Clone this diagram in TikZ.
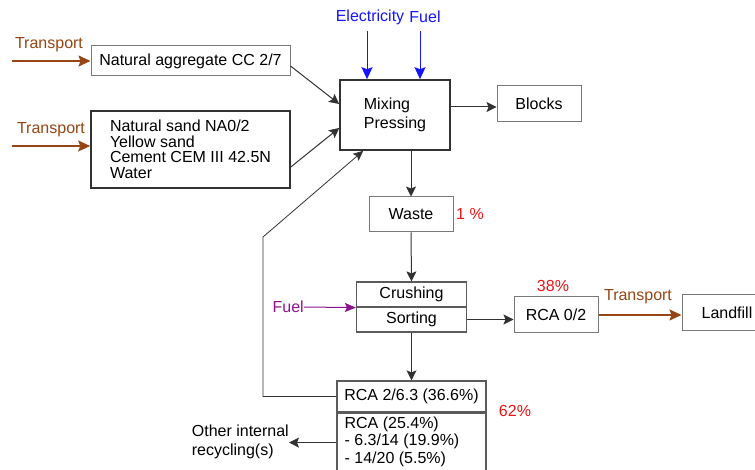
\documentclass[tikz,border=0pt]{standalone}
\usepackage{fontspec}
\setmainfont{Liberation Sans}
\usetikzlibrary{arrows.meta,calc}
\definecolor{brn}{RGB}{150,70,20}
\definecolor{blu}{RGB}{20,20,255}
\definecolor{prp}{RGB}{140,20,140}
\definecolor{rd}{RGB}{240,20,20}
\definecolor{dk}{RGB}{50,50,50}
\definecolor{gr}{RGB}{120,120,120}
\tikzset{
  lightbox/.style={draw=gr, line width=1pt, inner sep=0pt, fill=white},
  darkbox/.style={draw=dk, line width=1.6pt, inner sep=0pt, fill=white},
  flow/.style={draw=dk, line width=1pt, -{Stealth[length=10pt,width=10pt,inset=2pt]}},
  thinflow/.style={draw=dk, line width=0.8pt, -{Stealth[length=10pt,width=9pt,inset=2pt]}},
  trans/.style={draw=brn, line width=1.4pt, -{Stealth[length=12pt,width=11pt,inset=2pt]}},
  energy/.style={draw=blu, line width=1pt, -{Stealth[length=12pt,width=11pt,inset=2pt]}},
  fuelarr/.style={draw=prp, line width=1pt, -{Stealth[length=11pt,width=9pt,inset=2pt]}},
  lbl/.style={inner sep=0pt},
}
\begin{document}
\begin{tikzpicture}[x=1pt,y=-1pt,font=\fontsize{16}{15.5}\selectfont]
\useasboundingbox (0,0) rectangle (755,470);
\fill[white] (0,0) rectangle (755,470);
% boxes
\node[lightbox, minimum width=199, minimum height=30] (na) at (190.5,61) {Natural aggregate CC 2/7};
\node[darkbox, minimum width=199, minimum height=77, align=left] (sand) at (190.5,149.5) {Natural sand NA0/2\\Yellow sand\\Cement CEM III 42.5N\\Water};
\node[darkbox, minimum width=110, minimum height=70, align=left] (mix) at (395,115) {Mixing\\[4pt]Pressing};
\node[lightbox, minimum width=84, minimum height=36] (blocks) at (539,104) {Blocks};
\node[lightbox, minimum width=84, minimum height=35] (waste) at (411,214.5) {Waste};
\node[draw=dk!80, line width=1.2pt, inner sep=0pt, minimum width=110, minimum height=25] (crush) at (411.5,294.5) {Crushing};
\node[draw=dk!80, line width=1.2pt, inner sep=0pt, minimum width=110, minimum height=25] (sort) at (411.5,319.5) {Sorting};
\node[lightbox, minimum width=84, minimum height=36] (rca02) at (556,315) {RCA 0/2};
\node[lightbox, minimum width=90, minimum height=36] (land) at (727,312.5) {Landfill};
\node[draw=dk!80, line width=1.2pt, inner sep=0pt, minimum width=149, minimum height=31] (rcat) at (411.5,396.5) {RCA 2/6.3 (36.6\%)};
\node[draw=dk!80, line width=1.2pt, inner sep=0pt, minimum width=149, minimum height=70, anchor=north] (rcab) at (rcat.south) {};
\node[lbl, anchor=north west, align=left, font=\fontsize{16}{17.5}\selectfont] (rcabt) at ($(rcab.north west)+(8,4)$) {RCA (25.4\%)\\- 6.3/14 (19.9\%)\\- 14/20 (5.5\%)};
% labels
\node[lbl, text=brn] (t1) at (49,45) {Transport};
\node[lbl, text=brn] (t2) at (51,130) {Transport};
\node[lbl, text=brn] (t3) at (638,297) {Transport};
\node[lbl, text=blu] (elec) at (370,17) {Electricity};
\node[lbl, text=blu] (fuel) at (425,17) {Fuel};
\node[lbl, text=prp, anchor=east] (fuel2) at (304,307) {Fuel};
\node[lbl, text=rd] (p1) at (470,214) {1 \%};
\node[lbl, text=rd] (p38) at (553,286) {38\%};
\node[lbl, text=rd] (p62) at (515,411) {62\%};
\node[lbl, align=left, anchor=east, font=\fontsize{16}{19}\selectfont] (other) at (289,442) {Other internal\\recycling(s)};
% free ends
\coordinate (s1) at (12,61);
\coordinate (s2) at (12,146);
\coordinate (e0) at (367,31);
\coordinate (f0) at (420,31);
\coordinate (bend1) at (263,396.5);
\coordinate (bend2) at (263,237);
% connectors
\draw[trans] (s1) -- (na.west |- s1);
\draw[trans] (s2) -- (sand.west |- s2);
\draw[energy] (e0) -- (e0 |- mix.north);
\draw[energy] (f0) -- (f0 |- mix.north);
\draw[flow] ($(na.east)+(0,5)$) -- ($(mix.west)+(0,-11)$);
\draw[flow] ($(sand.east)+(0,17.5)$) -- ($(mix.west)+(0,13)$);
\draw[thinflow] (rcat.west) -- (bend1) -- (bend2) -- ($(mix.south west)+(24,0)$);
\coordinate (mb) at ($(mix.east)+(0,-8)$);
\draw[flow] (mb) -- (mb -| blocks.west);
\draw[flow] ($(mix.south)+(16,0)$) -- (waste.north);
\draw[flow] (waste.south) -- (crush.north);
\draw[fuelarr] (fuel2.east) -- (crush.south west);
\draw[flow] (sort.east) -- (sort.east -| rca02.west);
\draw[trans] (rca02.east) -- (rca02.east -| land.west);
\draw[flow] (sort.south) -- (rcat.north);
\coordinate (ob) at ($(rcab.north west)+(0,30)$);
\draw[flow] (ob) -- (ob -| other.east);
\end{tikzpicture}
\end{document}
